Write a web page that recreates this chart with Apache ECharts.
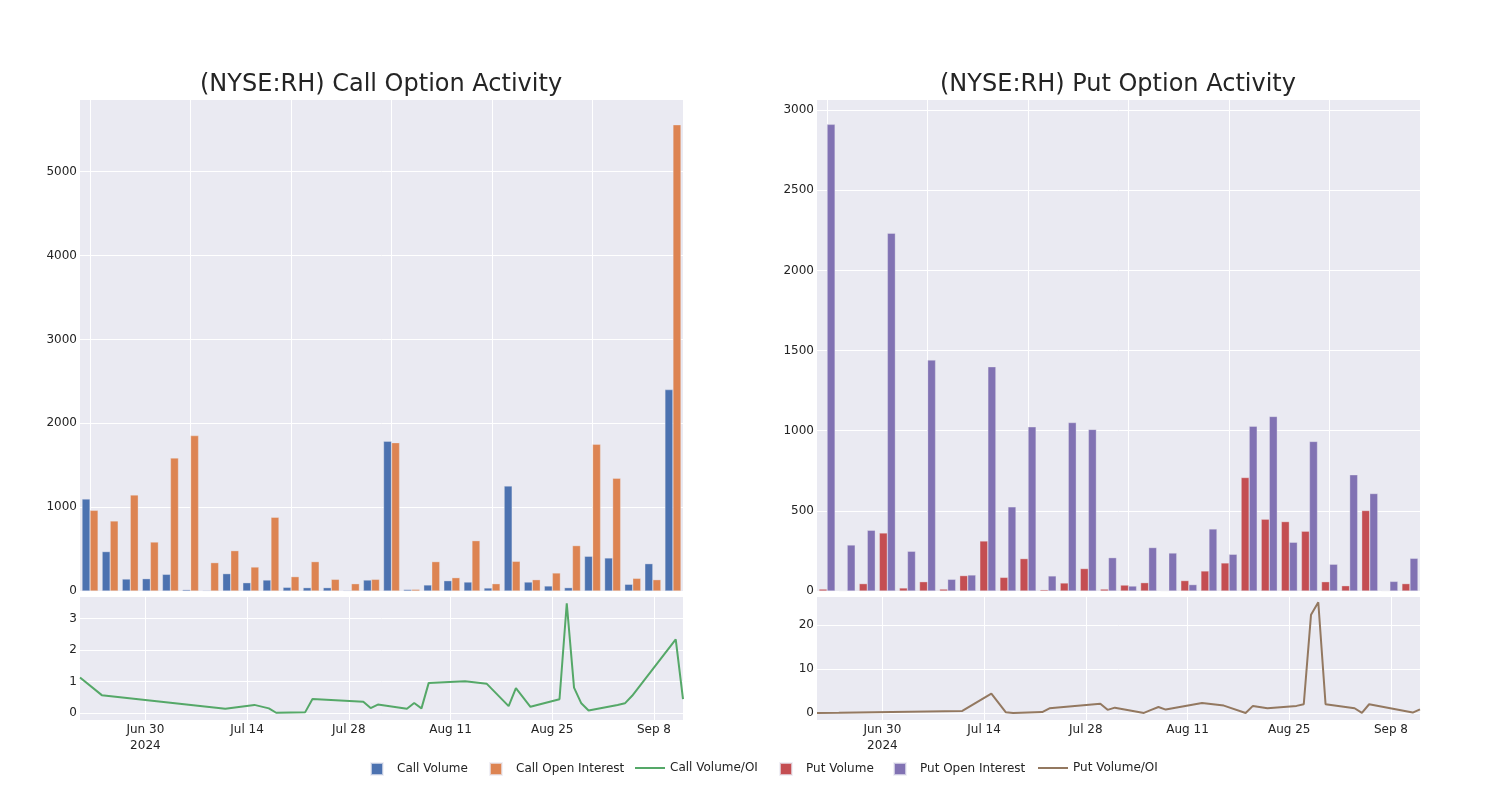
<!DOCTYPE html>
<html>
<head>
<meta charset="utf-8">
<script src="https://cdn.jsdelivr.net/npm/echarts@6.0.0/dist/echarts.min.js"></script>
<style>
  html, body { margin: 0; padding: 0; background: #ffffff; }
  #chart { width: 1500px; height: 800px; }
</style>
</head>
<body>
<div id="chart"></div>
<script>
// ---------- data ----------
const dates = ['2024-06-21','2024-06-24','2024-07-11','2024-07-15','2024-07-17','2024-07-18','2024-07-22','2024-07-23','2024-07-30','2024-07-31','2024-08-01','2024-08-05','2024-08-06','2024-08-07','2024-08-08','2024-08-13','2024-08-16','2024-08-19','2024-08-20','2024-08-22','2024-08-26','2024-08-27','2024-08-28','2024-08-29','2024-08-30','2024-09-03','2024-09-04','2024-09-05','2024-09-11','2024-09-12'];

const callVolume = [1097, 470, 143, 147, 199, 16, 8, 207, 99, 131, 44, 40, 40, 8, 131, 1785, 18, 72, 123, 107, 36, 1252, 107, 60, 40, 414, 394, 80, 326, 2401];
const callOpenInterest = [962, 835, 1145, 584, 1586, 1853, 338, 481, 286, 879, 171, 350, 139, 87, 139, 1769, 20, 350, 159, 600, 87, 354, 135, 215, 541, 1749, 1344, 151, 135, 5559];
const callVolOI = [1.13, 0.57, 0.14, 0.26, 0.15, 0.01, 0.03, 0.45, 0.36, 0.16, 0.27, 0.14, 0.32, 0.15, 0.96, 1.01, 0.93, 0.22, 0.79, 0.20, 0.44, 3.49, 0.81, 0.31, 0.08, 0.26, 0.31, 0.55, 2.34, 0.44];

const putVolume = [12, 2, 46, 362, 19, 58, 12, 96, 312, 85, 202, 8, 50, 140, 12, 37, 52, 2, 65, 125, 175, 708, 448, 433, 373, 58, 33, 502, 2, 46];
const putOpenInterest = [2911, 287, 379, 2232, 248, 1441, 73, 100, 1399, 525, 1024, 94, 1051, 1008, 208, 31, 271, 237, 40, 387, 229, 1028, 1089, 304, 933, 167, 725, 608, 60, 204];
const putVolOI = [0.0, 0.05, 0.45, 4.4, 0.15, 0.0, 0.2, 1.06, 2.1, 0.7, 1.2, 0.0, 0.7, 1.36, 0.76, 2.27, 1.67, 0.0, 1.6, 1.06, 1.6, 1.97, 22.3, 25.1, 1.97, 1.06, 0.0, 1.97, 0.08, 0.83];

const callBarTicks = [0, 1000, 2000, 3000, 4000, 5000];
const callLineTicks = [0, 1, 2, 3];
const putBarTicks = [0, 500, 1000, 1500, 2000, 2500, 3000];
const putLineTicks = [0, 10, 20];
const dateTicks = ['2024-06-30', '2024-07-14', '2024-07-28', '2024-08-11', '2024-08-25', '2024-09-08'];

// ---------- helpers ----------
const MONTHS = ['Jan','Feb','Mar','Apr','May','Jun','Jul','Aug','Sep','Oct','Nov','Dec'];
const ts = s => { const p = s.split('-').map(Number); return Date.UTC(p[0], p[1] - 1, p[2]); };
const dateTickValues = dateTicks.map(ts);
const firstTick = dateTickValues[0];
const fmtDate = v => {
  const d = new Date(v);
  let s = MONTHS[d.getUTCMonth()] + ' ' + d.getUTCDate();
  if (v === firstTick) s += '\n' + d.getUTCFullYear();
  return s;
};
const pairs = (vals) => dates.map((d, i) => [ts(d), vals[i]]);
const auxCats = Array.from({length: 61}, (_, i) => String(i));

const FONT = 'DejaVu Sans';
const TXT = '#242424';
const BG = '#EAEAF2';

const gridBase = { show: true, backgroundColor: BG, borderWidth: 0, containLabel: false, outerBoundsMode: 'none' };
const grids = [
  Object.assign({ left: 80, top: 100, width: 603, height: 491 }, gridBase),
  Object.assign({ left: 80, top: 597, width: 603, height: 123 }, gridBase),
  Object.assign({ left: 817, top: 100, width: 603, height: 491 }, gridBase),
  Object.assign({ left: 817, top: 597, width: 603, height: 123 }, gridBase)
];

const catAxis = (gi) => ({
  type: 'category', gridIndex: gi, data: dates, boundaryGap: true,
  axisLine: { show: false }, axisTick: { show: false }, axisLabel: { show: false }, splitLine: { show: false }
});
const auxAxis = (gi) => ({
  type: 'category', gridIndex: gi, data: auxCats, boundaryGap: false,
  axisLine: { show: false }, axisTick: { show: false }, axisLabel: { show: false },
  splitLine: { show: true, interval: (idx) => idx % 10 === 1, lineStyle: { color: '#ffffff', width: 1 } }
});
const timeAxis = (gi) => ({
  type: 'value', gridIndex: gi, min: ts(dates[0]), max: ts(dates[dates.length - 1]),
  axisLine: { show: false },
  axisTick: { show: false, customValues: dateTickValues },
  axisLabel: { customValues: dateTickValues, formatter: fmtDate, color: TXT, fontFamily: FONT, fontSize: 12, lineHeight: 16, margin: 2 },
  splitLine: { show: true, lineStyle: { color: '#ffffff', width: 1 } }
});
const valAxis = (gi, min, max, ticks) => ({
  type: 'value', gridIndex: gi, min: min, max: max,
  axisLine: { show: false },
  axisTick: { show: false, customValues: ticks },
  axisLabel: { customValues: ticks, formatter: v => String(v), color: TXT, fontFamily: FONT, fontSize: 12, margin: 3 },
  splitLine: { show: true, lineStyle: { color: '#ffffff', width: 1 } }
});

const barStyle = (c) => ({ color: c, borderColor: 'rgba(234,234,242,0.7)', borderWidth: 0.5 });

const legendItem = (name, left, isLine) => ({
  data: [{ name: name, icon: 'rect' }], left: left, top: 762, orient: 'horizontal', padding: 0,
  itemWidth: isLine ? 30 : 12, itemHeight: isLine ? 2 : 12, selectedMode: false,
  textStyle: { color: TXT, fontFamily: FONT, fontSize: 12, padding: isLine ? [0, 0, 0, 0] : [0, 0, 0, 9] }
});

const option = {
  animation: false,
  backgroundColor: '#ffffff',
  title: [
    { text: '(NYSE:RH) Call Option Activity', left: 200, top: 73, padding: 0,
      textStyle: { fontFamily: FONT, fontSize: 24, fontWeight: 'normal', color: TXT } },
    { text: '(NYSE:RH) Put Option Activity', left: 940, top: 73, padding: 0,
      textStyle: { fontFamily: FONT, fontSize: 24, fontWeight: 'normal', color: TXT } }
  ],
  legend: [
    legendItem('Call Volume', 370, false),
    legendItem('Call Open Interest', 489, false),
    legendItem('Call Volume/OI', 635, true),
    legendItem('Put Volume', 779, false),
    legendItem('Put Open Interest', 893, false),
    legendItem('Put Volume/OI', 1038, true)
  ],
  grid: grids,
  xAxis: [catAxis(0), auxAxis(0), timeAxis(1), catAxis(2), auxAxis(2), timeAxis(3)],
  yAxis: [
    valAxis(0, 0, 5854, callBarTicks),
    valAxis(1, -0.22, 3.69, callLineTicks),
    valAxis(2, 0, 3063, putBarTicks),
    valAxis(3, -1.6, 26.3, putLineTicks)
  ],
  series: [
    { name: 'Call Volume', type: 'bar', xAxisIndex: 0, yAxisIndex: 0, data: callVolume,
      barGap: '0%', barCategoryGap: '20%', itemStyle: barStyle('#4C72B0') },
    { name: 'Call Open Interest', type: 'bar', xAxisIndex: 0, yAxisIndex: 0, data: callOpenInterest,
      barGap: '0%', barCategoryGap: '20%', itemStyle: barStyle('#DD8452') },
    { name: 'Call Volume/OI', type: 'line', xAxisIndex: 2, yAxisIndex: 1, data: pairs(callVolOI),
      symbol: 'none', showSymbol: false, itemStyle: { color: '#55A868' }, lineStyle: { color: '#55A868', width: 2 } },
    { name: 'Put Volume', type: 'bar', xAxisIndex: 3, yAxisIndex: 2, data: putVolume,
      barGap: '0%', barCategoryGap: '20%', itemStyle: barStyle('#C44E52') },
    { name: 'Put Open Interest', type: 'bar', xAxisIndex: 3, yAxisIndex: 2, data: putOpenInterest,
      barGap: '0%', barCategoryGap: '20%', itemStyle: barStyle('#8172B3') },
    { name: 'Put Volume/OI', type: 'line', xAxisIndex: 5, yAxisIndex: 3, data: pairs(putVolOI),
      symbol: 'none', showSymbol: false, itemStyle: { color: '#937860' }, lineStyle: { color: '#937860', width: 2 } }
  ]
};

const chart = echarts.init(document.getElementById('chart'), null, { renderer: 'canvas' });
chart.setOption(option);
</script>
</body>
</html>
